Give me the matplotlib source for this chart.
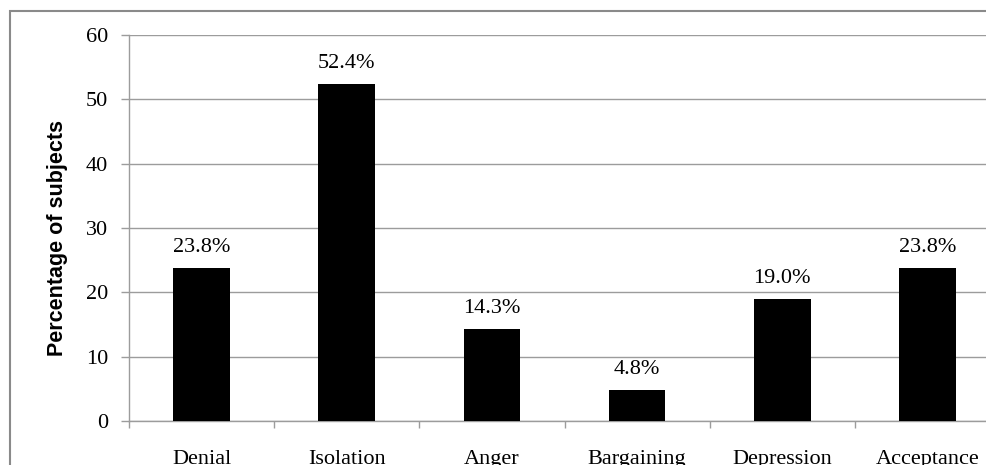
import matplotlib
matplotlib.use("Agg")
import matplotlib.pyplot as plt
from matplotlib.patches import Rectangle
import numpy as np

categories = ["Denial", "Isolation", "Anger", "Bargaining", "Depression", "Acceptance"]
percentages = [23.8, 52.4, 14.3, 4.8, 19.0, 23.8]
y_ticks = [0, 10, 20, 30, 40, 50, 60]

W, H, DPI = 986, 465, 100
fig = plt.figure(figsize=(W / DPI, H / DPI), dpi=DPI)
fig.patch.set_facecolor("white")

serif = ["Liberation Serif", "DejaVu Serif"]
sans = ["Liberation Sans", "DejaVu Sans"]
grid_col = "#9c9c9c"
frame_col = "#8a8a8a"

# plot area runs past the right edge of the canvas
left_px, right_px, top_px, bottom_px = 129, 1000, 35, 421
ax = fig.add_axes([left_px / W, 1 - bottom_px / H,
                   (right_px - left_px) / W, (bottom_px - top_px) / H])

x = np.arange(len(categories))
ax.bar(x, percentages, width=0.39, color="black", zorder=3)

for xi, v in zip(x, percentages):
    ax.annotate(f"{v:.1f}%", xy=(xi, v), xytext=(0, 11.5), textcoords="offset points",
                ha="center", va="baseline", fontsize=16, family=serif, color="black")

ax.set_xlim(-0.5, len(categories) - 0.5)
ax.set_ylim(0, 60)
ax.set_yticks(y_ticks)
ax.set_yticklabels([str(t) for t in y_ticks], family=serif, fontsize=16)
ax.yaxis.grid(True, color=grid_col, linewidth=1.0, zorder=0)
ax.set_axisbelow(True)

ax.set_xticks(x)
ax.set_xticklabels(categories, family=serif, fontsize=16)
ax.set_xticks(np.arange(-0.5, len(categories), 1.0), minor=True)
ax.tick_params(axis="x", which="major", length=0, pad=21)
ax.tick_params(axis="x", which="minor", length=5, color=grid_col, width=1.0, direction="out")
ax.tick_params(axis="y", which="major", length=6, color=grid_col, width=1.0, pad=9)

for side in ["top", "right"]:
    ax.spines[side].set_visible(False)
for side in ["left", "bottom"]:
    ax.spines[side].set_color(grid_col)
    ax.spines[side].set_linewidth(1.0)

fig.text(57 / W, 1 - 238 / H, "Percentage of subjects", rotation=90, ha="center", va="center",
         fontsize=15.5, fontweight="bold", family=sans)

# outer frame around the chart
fig.patches.append(Rectangle((9.5 / W, -0.1), 1.2, 1 - 11.5 / H + 0.1, transform=fig.transFigure,
                             fill=False, edgecolor=frame_col, linewidth=1.5, zorder=0))

fig.savefig("out.png", dpi=DPI, facecolor="white")
